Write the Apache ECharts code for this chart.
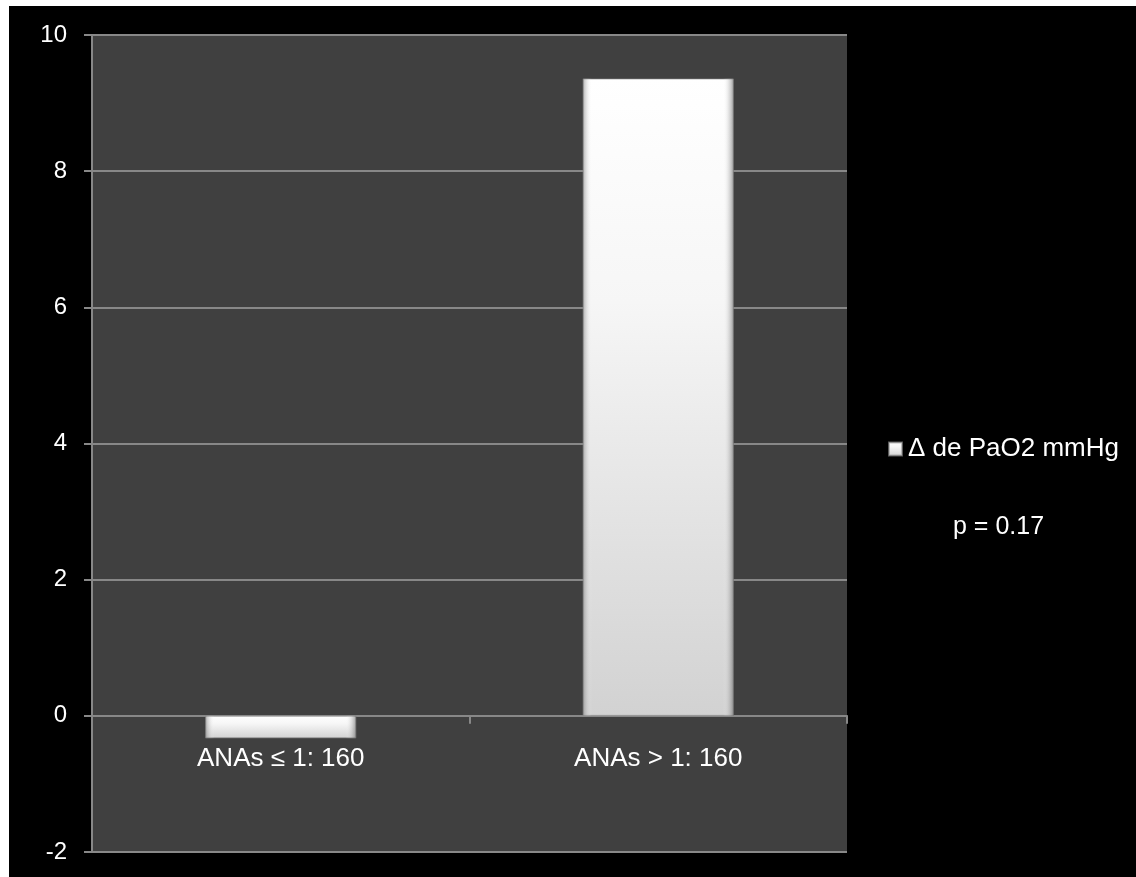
<!DOCTYPE html>
<html>
<head>
<meta charset="utf-8">
<script src="https://cdn.jsdelivr.net/npm/echarts@6/dist/echarts.min.js"></script>
<style>
  html, body { margin: 0; padding: 0; background: #fff; }
  #chart { width: 1136px; height: 877px; }
</style>
</head>
<body>
<div id="chart"></div>
<script>
// Change in PaO2 by ANA titre group
const categories = ['ANAs \u2264 1: 160', 'ANAs > 1: 160'];
const deltaPaO2 = [-0.33, 9.36];
const seriesName = '\u0394 de PaO2 mmHg';
const pValueText = 'p = 0.17';
const yMin = -2, yMax = 10, yStep = 2;

const FONT = '"Liberation Sans", Arial, sans-serif';
const chart = echarts.init(document.getElementById('chart'), null, { renderer: 'canvas' });

chart.setOption({
  backgroundColor: '#000',
  animation: false,
  textStyle: { fontFamily: FONT },
  grid: {
    left: 92, right: 289, top: 35, bottom: 25,
    outerBoundsMode: 'none',
    containLabel: false,
    show: true, backgroundColor: '#404040', borderWidth: 0
  },
  legend: {
    data: [seriesName],
    left: 883, top: 431,
    orient: 'vertical',
    itemWidth: 13, itemHeight: 13, itemGap: 6,
    icon: 'rect',
    textStyle: { color: '#fff', fontSize: 26, fontFamily: FONT, padding: [0, 0, 0, 1] }
  },
  xAxis: {
    type: 'category',
    data: categories,
    position: 'bottom',
    // axis sits on the zero line: (0 - yMin) steps above the grid bottom
    offset: -(0 - yMin) / (yMax - yMin) * (877 - 35 - 25),
    axisLine: { onZero: false, lineStyle: { color: '#888', width: 2 } },
    axisTick: { show: true, length: 8, lineStyle: { color: '#888', width: 2 } },
    axisLabel: { color: '#fff', fontSize: 26, margin: 30, fontFamily: FONT },
    splitLine: { show: false }
  },
  yAxis: {
    type: 'value',
    min: yMin, max: yMax, interval: yStep,
    axisLine: { show: true, lineStyle: { color: '#888', width: 2 } },
    axisTick: { show: true, length: 8, lineStyle: { color: '#888', width: 2 } },
    axisLabel: { color: '#fff', fontSize: 24, margin: 25, fontFamily: FONT },
    splitLine: { show: true, lineStyle: { color: '#888', width: 2 } }
  },
  series: [
    {
      name: seriesName,
      type: 'bar',
      data: deltaPaO2,
      barWidth: '40%',
      itemStyle: {
        color: new echarts.graphic.LinearGradient(0, 0, 0, 1, [
          { offset: 0, color: '#ffffff' },
          { offset: 0.35, color: '#f6f6f6' },
          { offset: 1, color: '#d2d2d2' }
        ]),
        borderColor: 'rgba(150,150,150,0.6)',
        borderWidth: 1
      },
      z: 3
    },
    {
      // bevelled side shading on top of each bar
      name: 'bevel',
      type: 'bar',
      data: deltaPaO2,
      barWidth: '40%',
      barGap: '-100%',
      silent: true,
      itemStyle: {
        color: new echarts.graphic.LinearGradient(0, 0, 1, 0, [
          { offset: 0, color: 'rgba(110,110,110,0.55)' },
          { offset: 0.06, color: 'rgba(255,255,255,0)' },
          { offset: 0.93, color: 'rgba(255,255,255,0)' },
          { offset: 1, color: 'rgba(90,90,90,0.6)' }
        ])
      },
      z: 4
    }
  ],
  graphic: [
    { type: 'rect', left: 0, top: 0, shape: { width: 9, height: 877 }, style: { fill: '#fff' }, silent: true },
    { type: 'rect', left: 0, top: 0, shape: { width: 1136, height: 6 }, style: { fill: '#fff' }, silent: true },
    {
      type: 'text', left: 953, top: 515,
      style: { text: pValueText, fill: '#fff', font: '25px ' + FONT }
    }
  ]
});
</script>
</body>
</html>
